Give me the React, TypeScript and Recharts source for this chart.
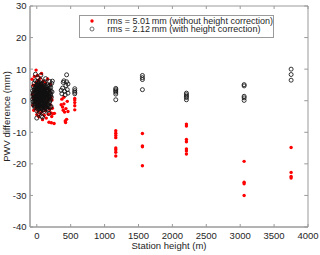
import React from 'react';
import { ScatterChart, Scatter, XAxis, YAxis, Legend, ReferenceArea, ReferenceLine } from 'recharts';

// Low stations (height m, PWV difference mm)
const redLow: [number, number][] = [
  [-70, 6.8], [-65, 2.0], [-60, -1.5], [-55, 4.9], [-50, 0.8], [-45, -3.0], [-40, 3.0], [-35, 7.7],
  [-30, -0.6], [-25, 5.0], [-20, 1.6], [-15, -2.4], [-10, 9.7], [-10, 3.7], [-5, 0.1], [0, -4.4],
  [0, 5.9], [5, 2.2], [10, -1.0], [10, 8.0], [15, 4.1], [20, -3.3], [20, 0.9], [25, 6.5], [30, 2.8],
  [30, -5.1], [35, -0.9], [40, 4.5], [40, 1.2], [45, -2.0], [50, 7.1], [50, 3.2], [55, -4.0], [60, 0.5],
  [60, 5.4], [65, -1.6], [70, 2.4], [70, 8.6], [75, -3.5], [80, 1.0], [80, 4.8], [85, -6.0], [90, -0.2],
  [90, 3.5], [95, 6.2], [100, -2.6], [100, 1.8], [110, 4.0], [110, -4.6], [115, 0.0], [120, 2.9],
  [120, -1.9], [130, 5.6], [130, -3.2], [140, 1.5], [140, -5.5], [150, 3.8], [150, -0.7], [160, -2.2],
  [160, 6.9], [170, 1.9], [170, -4.3], [180, 0.4], [180, -6.8], [190, 3.1], [190, -2.8], [200, -1.3],
  [200, 5.2], [210, -3.9], [210, 1.0], [215, -7.0], [220, -5.0], [225, 0.2], [230, -2.4], [240, -4.1],
  [255, -7.2], [260, -4.0],
  [360, -1.3], [370, 0.5], [380, -2.0], [390, -3.0], [400, -1.0], [400, 1.1], [410, -3.6], [420, -6.4],
  [425, -6.9], [430, -2.5], [440, -5.9], [450, -0.2], [460, -3.4],
  [560, 0.7], [560, 0.2], [560, -0.6], [560, -1.6], [560, -2.9],
];

const blackLow: [number, number][] = [
  [-60, 3.2], [-60, 0.5], [-55, 1.8], [-50, -1.2], [-50, 4.4], [-45, 2.6], [-40, -0.4], [-40, 5.6],
  [-35, 1.1], [-30, 3.8], [-30, -2.1], [-25, 0.2], [-20, 2.4], [-20, 6.3], [-15, -1.5], [-10, 1.6],
  [-10, 4.1], [-5, -0.8], [0, 2.9], [0, 0.1], [0, -3.2], [5, 5.1], [5, 1.3], [10, -1.9], [10, 3.5],
  [15, 0.6], [15, 7.2], [20, 2.1], [20, -2.7], [25, 4.6], [25, -0.3], [30, 1.7], [30, -4.1], [35, 3.1],
  [35, 0.9], [40, 5.8], [40, -1.4], [45, 2.3], [45, -3.6], [50, 0.4], [50, 4.0], [55, -0.9], [55, 6.6],
  [60, 1.9], [60, -2.3], [65, 3.3], [70, 0.2], [70, -4.9], [75, 2.7], [80, 5.3], [80, -1.1], [85, 1.2],
  [90, 3.9], [90, -2.9], [95, 0.7], [100, 2.5], [100, -0.6], [105, 4.7], [110, 1.4], [110, -3.4],
  [115, 3.0], [120, 0.0], [120, 6.0], [125, -1.7], [130, 2.2], [135, 4.3], [140, -0.2], [140, 1.0],
  [145, -2.5], [150, 3.6], [155, 0.8], [160, 5.0], [160, -1.3], [165, 2.0], [170, -3.0], [175, 1.5],
  [180, 3.4], [185, -0.5], [190, 6.1], [195, 2.6], [200, 0.3], [205, 4.2], [210, -1.8], [215, 1.1],
  [220, 5.5], [-20, 8.4], [60, 8.1], [130, 7.0], [0, -5.5], [85, -5.2], [180, -4.0], [225, 2.8],
  [230, 6.2],
  [-45, 0.9], [-35, 3.4], [-25, -1.0], [-15, 2.9], [-5, 4.8], [-5, 1.2], [5, -0.5], [10, 1.0],
  [15, -2.0], [15, 3.9], [20, 5.4], [25, 1.3], [30, 4.2], [35, -2.4], [40, 2.6], [45, 0.3],
  [50, -1.9], [50, 2.4], [55, 3.9], [60, 0.0], [65, -1.2], [65, 5.2], [70, 3.0], [75, -2.6],
  [75, 1.2], [80, -0.1], [85, 3.6], [90, 1.6], [95, -1.5], [95, 4.4], [100, 0.6], [105, -2.8],
  [105, 2.0], [110, 5.6], [115, -0.9], [120, 1.8], [125, 3.7], [130, -2.2], [135, 0.5], [140, 3.1],
  [145, 1.3], [150, -0.8], [155, 2.9], [160, 0.7], [165, 4.6], [170, -1.1], [175, 3.3], [180, 1.2],
  [185, 2.5], [190, -0.2], [195, 4.9], [200, -2.1], [205, 1.6], [-55, -0.3], [-40, 1.9], [-30, 0.8],
  [-20, -0.2], [-10, -0.5], [0, 4.3], [0, 1.6], [10, 6.0], [20, 0.3], [25, 2.9], [30, -0.9],
  [35, 5.1], [40, 0.4], [45, 4.8], [55, 1.5], [60, 3.6], [70, -2.2], [80, 2.3], [90, -1.2],
  [100, 4.1], [110, -0.5],
  [-50, 2.2], [-35, -1.6], [-25, 4.1], [-15, 0.5], [-5, 3.0], [5, 3.3], [5, -2.4], [15, 1.9],
  [20, 4.0], [25, -1.6], [30, 3.0], [35, 1.9], [40, -0.3], [40, 3.9], [45, 1.4], [50, 5.3],
  [55, 0.4], [60, 2.7], [65, 1.0], [70, 4.3], [75, 0.1], [80, 3.4], [85, -1.7], [85, 2.1],
  [90, 0.5], [95, 2.7], [100, -1.8], [105, 0.9], [110, 3.1], [115, 1.7], [120, -0.8], [125, 2.3],
  [130, 0.9], [135, -1.4], [140, 4.4], [150, 2.0], [155, -1.9], [160, 3.0], [170, 0.4], [175, -1.9],
  [185, 4.0], [190, 1.3], [200, 2.1], [210, 3.0],
  [360, 3.3], [370, 2.2], [380, 4.0], [390, 5.8], [400, 6.3], [410, 3.0], [420, 1.9], [430, 4.8],
  [440, 8.2], [440, 6.0], [450, 3.5], [460, 2.4], [460, 5.3],
  [560, 3.8], [560, 3.2], [560, 2.7], [560, 2.2],
];

// High stations
const highStations = [1165, 1558, 2207, 3058, 3751];
const redHigh: number[][] = [
  [-9.5, -10.3, -11.0, -11.7, -15.0, -15.5, -16.3, -17.5],
  [-10.4, -14.3, -14.6, -20.6],
  [-7.4, -8.0, -12.3, -13.0, -15.3, -15.9, -16.9],
  [-19.2, -25.8, -26.3, -30.0],
  [-14.8, -22.7, -24.0, -24.5],
];
const blackHigh: number[][] = [
  [3.9, 3.5, 3.1, 2.7, 2.1, 0.3],
  [8.0, 7.3, 6.7, 3.5],
  [2.4, 1.9, 1.4, 1.0, 0.3],
  [5.1, 4.7, 1.4, 0.9, 0.1],
  [10.0, 8.3, 6.5],
];

const xTicks = [0, 500, 1000, 1500, 2000, 2500, 3000, 3500, 4000];
const yTicks = [-40, -30, -20, -10, 0, 10, 20, 30];
const xDomain: [number, number] = [-100, 4000];
const yDomain: [number, number] = [-40, 30];

const legendLabels = [
  'rms = 5.01\u2009mm (without height correction)',
  'rms = 2.12\u2009mm (with height correction)',
];

const build = (low: [number, number][], high: number[][]) => {
  const out = low.map(([h, v]) => ({ h, v }));
  high.forEach((vals, i) => vals.forEach((v) => out.push({ h: highStations[i], v })));
  return out;
};

const redData = build(redLow, redHigh);
const blackData = build(blackLow, blackHigh);

const AXIS = '#9a9a9a';
const TEXT = '#262626';
const FONT = '"Liberation Sans", Arial, Helvetica, sans-serif';

const RedDot = (p: any) => <circle cx={p.cx} cy={p.cy} r={1.7} fill="#ff0000" />;
const OpenCircle = (p: any) => (
  <circle cx={p.cx} cy={p.cy} r={2.0} fill="none" stroke="#111" strokeWidth={0.85} />
);

const LegendBox = () => (
  <div
    style={{
      width: 195,
      height: 23,
      boxSizing: 'border-box',
      border: `1px solid ${AXIS}`,
      background: '#fff',
      paddingTop: 0.5,
      fontFamily: FONT,
      fontSize: 9,
      color: TEXT,
    }}
  >
    {legendLabels.map((t, i) => (
      <div key={i} style={{ height: 8.5, lineHeight: '8.5px', display: 'flex', alignItems: 'center', whiteSpace: 'nowrap' }}>
        <svg width={6} height={6} style={{ marginLeft: 8.7, marginRight: 12.6, flex: 'none' }}>
          {i === 0 ? (
            <circle cx={3} cy={3} r={1.7} fill="#ff0000" />
          ) : (
            <circle cx={3} cy={3} r={2.0} fill="none" stroke="#555" strokeWidth={0.85} />
          )}
        </svg>
        <span>{t}</span>
      </div>
    ))}
  </div>
);

// small inward tick length in data units for mirrored ticks
const xTickLen = 0.95; // in y units
const yTickLen = 55; // in x units

export default function App() {
  return (
    <div style={{ position: 'absolute', left: 0, top: 0, width: 320, height: 255, background: '#fff' }}>
      <ScatterChart
        width={320}
        height={255}
        margin={{ top: 6, right: 12, left: 0, bottom: 0 }}
        style={{ fontFamily: FONT }}
      >
        <XAxis
          dataKey="h"
          type="number"
          domain={xDomain}
          ticks={xTicks}
          allowDataOverflow
          height={28}
          stroke={AXIS}
          tickSize={-3}
          tickMargin={8}
          tick={{ fill: TEXT, fontSize: 9.5 }}
          label={{
            content: () => (
              <text x={169} y={248.5} textAnchor="middle" fill={TEXT} fontSize={9.5} fontFamily={FONT}>
                Station height (m)
              </text>
            ),
          }}
        />
        <YAxis
          dataKey="v"
          type="number"
          domain={yDomain}
          ticks={yTicks}
          allowDataOverflow
          width={30}
          stroke={AXIS}
          tickSize={-3}
          tickMargin={6.5}
          tick={{ fill: TEXT, fontSize: 9.5 }}
          label={{
            content: () => (
              <text
                x={9.5}
                y={116.5}
                textAnchor="middle"
                fill={TEXT}
                fontSize={9.5}
                fontFamily={FONT}
                transform="rotate(-90 9.5 116.5)"
              >
                PWV difference (mm)
              </text>
            ),
          }}
        />
        <ReferenceArea
          x1={xDomain[0]}
          x2={xDomain[1]}
          y1={yDomain[0]}
          y2={yDomain[1]}
          fill="none"
          stroke={AXIS}
          strokeWidth={1}
          ifOverflow="visible"
        />
        {xTicks.map((t) => (
          <ReferenceLine
            key={'tx' + t}
            segment={[{ x: t, y: yDomain[1] }, { x: t, y: yDomain[1] - xTickLen }]}
            stroke={AXIS}
            ifOverflow="visible"
          />
        ))}
        {yTicks.map((t) => (
          <ReferenceLine
            key={'ty' + t}
            segment={[{ x: xDomain[1], y: t }, { x: xDomain[1] - yTickLen, y: t }]}
            stroke={AXIS}
            ifOverflow="visible"
          />
        ))}
        <Scatter data={redData} shape={RedDot} isAnimationActive={false} />
        <Scatter data={blackData} shape={OpenCircle} isAnimationActive={false} />
        <Legend
          layout="vertical"
          align="center"
          verticalAlign="middle"
          content={LegendBox}
          wrapperStyle={{ position: 'absolute', left: 79, top: 15, width: 195, height: 23 }}
        />
      </ScatterChart>
    </div>
  );
}
